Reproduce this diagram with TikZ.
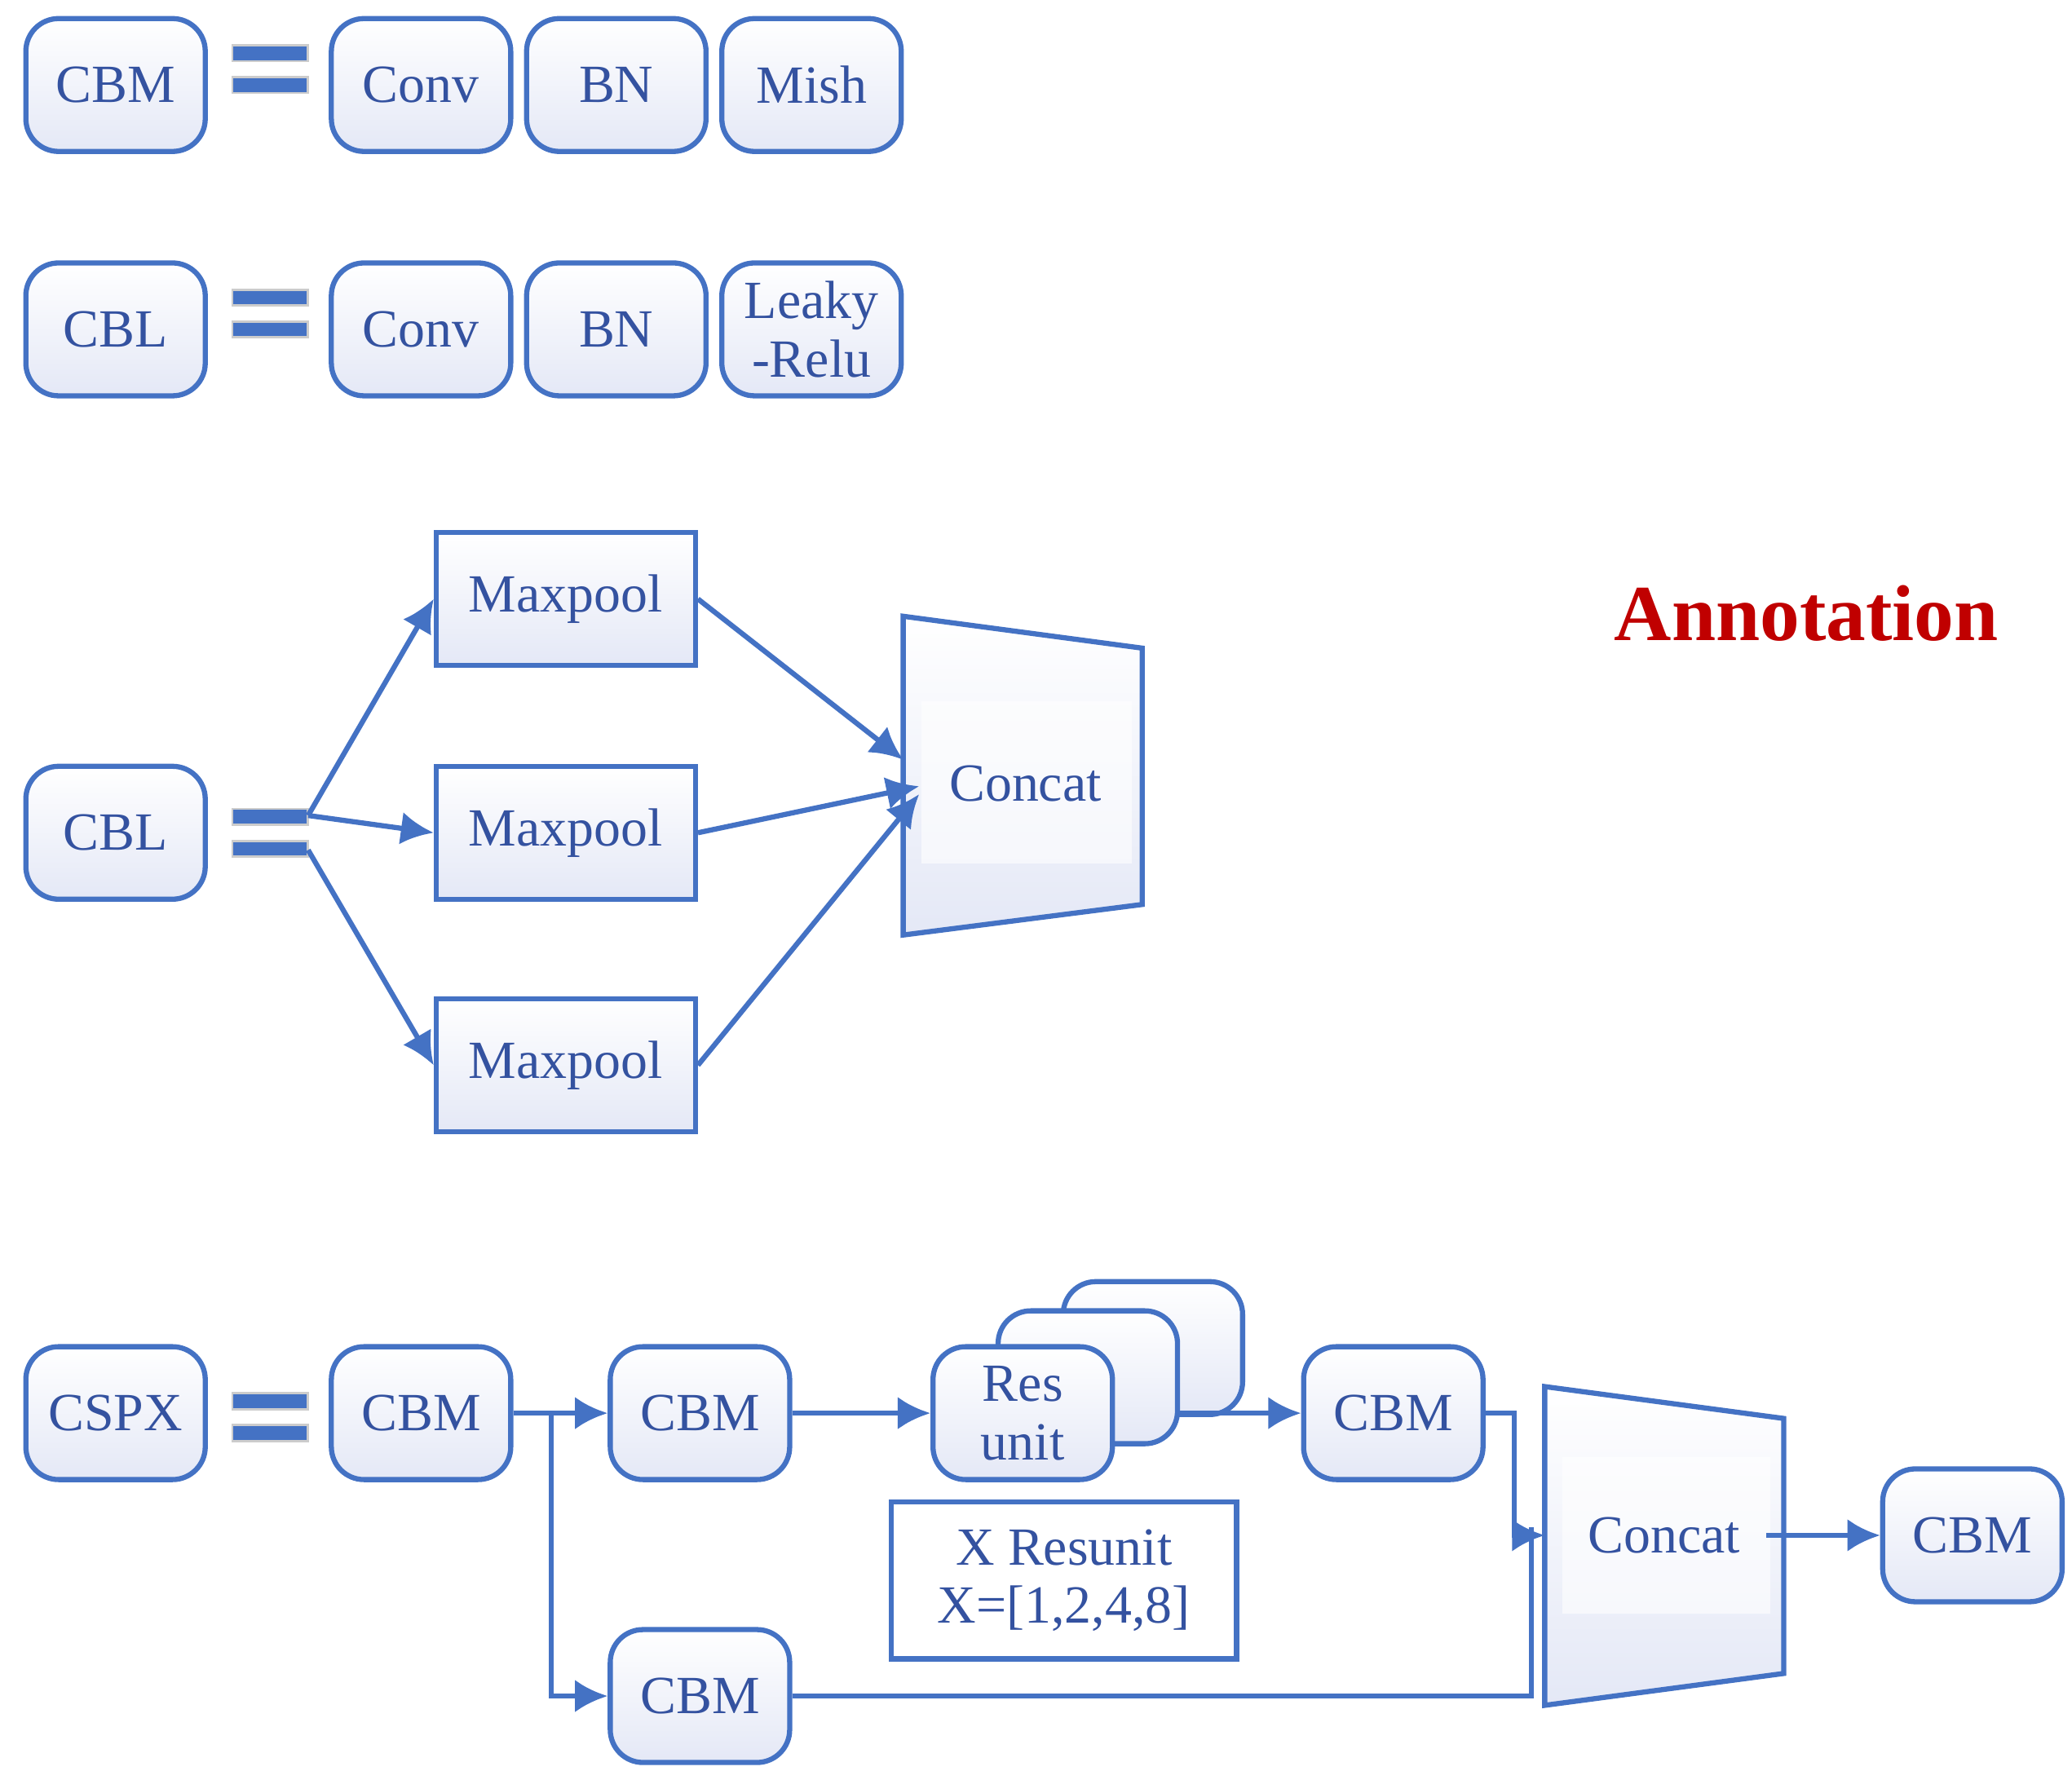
\documentclass[tikz,border=0pt]{standalone}
\usepackage{fontspec}
\setmainfont{Liberation Serif}
\usetikzlibrary{arrows.meta, positioning}
\definecolor{lineblue}{RGB}{68,114,196}
\definecolor{txtblue}{RGB}{52,82,160}
\definecolor{shadeblue}{RGB}{228,232,246}
\definecolor{annred}{RGB}{192,0,0}
\tikzset{
  blk/.style={draw=lineblue, line width=1.1pt, rounded corners=7pt, minimum width=1.35cm,
    minimum height=1cm, inner sep=1pt, text=txtblue, font=\fontsize{11.5}{13}\selectfont,
    top color=white, bottom color=shadeblue, align=center},
  sqblk/.style={blk, rounded corners=0pt, minimum width=1.95cm},
  conn/.style={draw=lineblue, line width=1.1pt, -{Latex[length=7pt,width=7pt]}},
  wire/.style={draw=lineblue, line width=1.1pt},
  eqbar/.style={fill=lineblue, draw=gray!40, line width=0.5pt},
  trap/.style={draw=lineblue, line width=1.1pt, top color=white, bottom color=shadeblue}
}
\newcommand{\eqsign}[1]{%
  \path[eqbar] (175,#1-18) rectangle (232,#1-6);
  \path[eqbar] (175,#1+6) rectangle (232,#1+18);}
\begin{document}
\begin{tikzpicture}[x=0.01cm, y=-0.01cm]
\useasboundingbox (0,0) rectangle (1560,1333);
% row 1
\node[blk] (cbm) at (87,64) {CBM};
\eqsign{52}
\node[blk] (conv1) at (317,64) {Conv};
\node[blk] (bn1) at (464,64) {BN};
\node[blk] (mish) at (611,64) {Mish};
% row 2
\node[blk] (cbl) at (87,248) {CBL};
\eqsign{236}
\node[blk] (conv2) at (317,248) {Conv};
\node[blk] (bn2) at (464,248) {BN};
\node[blk, font=\fontsize{11.5}{12.5}\selectfont] (leaky) at (611,248) {Leaky\\-Relu};
% SPP
\node[blk] (spp) at (87,627) {CBL};
\eqsign{627}
\coordinate (sppout) at (232,614);
\coordinate (sppout2) at (232,640);
\node[sqblk] (mp1) at (426,451) {Maxpool};
\node[sqblk] (mp2) at (426,627) {Maxpool};
\node[sqblk] (mp3) at (426,802) {Maxpool};
\path[trap] (680,464) -- (860,488) -- (860,681) -- (680,704) -- cycle;
\path[fill=white, opacity=0.6] (694,528) rectangle (852,650);
\node[text=txtblue, font=\fontsize{11.5}{13}\selectfont] (cat1) at (772,590) {Concat};
\coordinate (cat1a) at (680,572);
\coordinate (cat1b) at (692,592);
\coordinate (cat1c) at (692,598);
\path[conn] (sppout) -- (mp1.west);
\path[conn] (sppout) -- (mp2.west);
\path[conn] (sppout2) -- (mp3.west);
\path[conn] (mp1.east) -- (cat1a);
\path[conn] (mp2.east) -- (cat1b);
\path[conn] (mp3.east) -- (cat1c);
\node[text=annred, font=\fontsize{17}{20}\selectfont\bfseries] (ann) at (1360,462) {Annotation};
% CSPX
\node[blk] (cspx) at (87,1064) {CSPX};
\eqsign{1067}
\node[blk] (cbma) at (317,1064) {CBM};
\node[blk] (cbmb) at (527,1064) {CBM};
\node[blk] (cbmc) at (527,1277) {CBM};
\node[blk] (res3) at (868,1015) {};
\node[blk] (res2) at (819,1037) {};
\node[blk, font=\fontsize{11.5}{12.5}\selectfont] (res1) at (770,1064) {Res\\unit};
\node[sqblk, minimum width=2.6cm, minimum height=1.18cm, top color=white, bottom color=white,
  font=\fontsize{11.5}{12.5}\selectfont] (xres) at (801,1190) {X Resunit\\X=[1,2,4,8]};
\node[blk] (cbmd) at (1049,1064) {CBM};
\path[trap] (1163,1044) -- (1343,1068) -- (1343,1260) -- (1163,1284) -- cycle;
\path[fill=white, opacity=0.6] (1176,1097) rectangle (1333,1215);
\node[text=txtblue, font=\fontsize{11.5}{13}\selectfont] (cat2) at (1253,1156) {Concat};
\node[blk] (cbme) at (1485,1156) {CBM};
\coordinate (split) at (415,1064);
\coordinate (cat2in) at (1163,1156);
\coordinate (cat2out) at (1330,1156);
\path[conn] (cbma.east) -- (cbmb.west);
\path[conn] (split) |- (cbmc.west);
\path[conn] (cbmb.east) -- (res1.west);
\path[conn] (res2.east |- cbmd.west) -- (cbmd.west);
\path[conn] (cbmd.east) -| (1140,1130) |- (cat2in);
\path[wire] (cbmc.east) -| (1153,1150);
\path[conn] (cat2out) -- (cbme.west);
\end{tikzpicture}
\end{document}
